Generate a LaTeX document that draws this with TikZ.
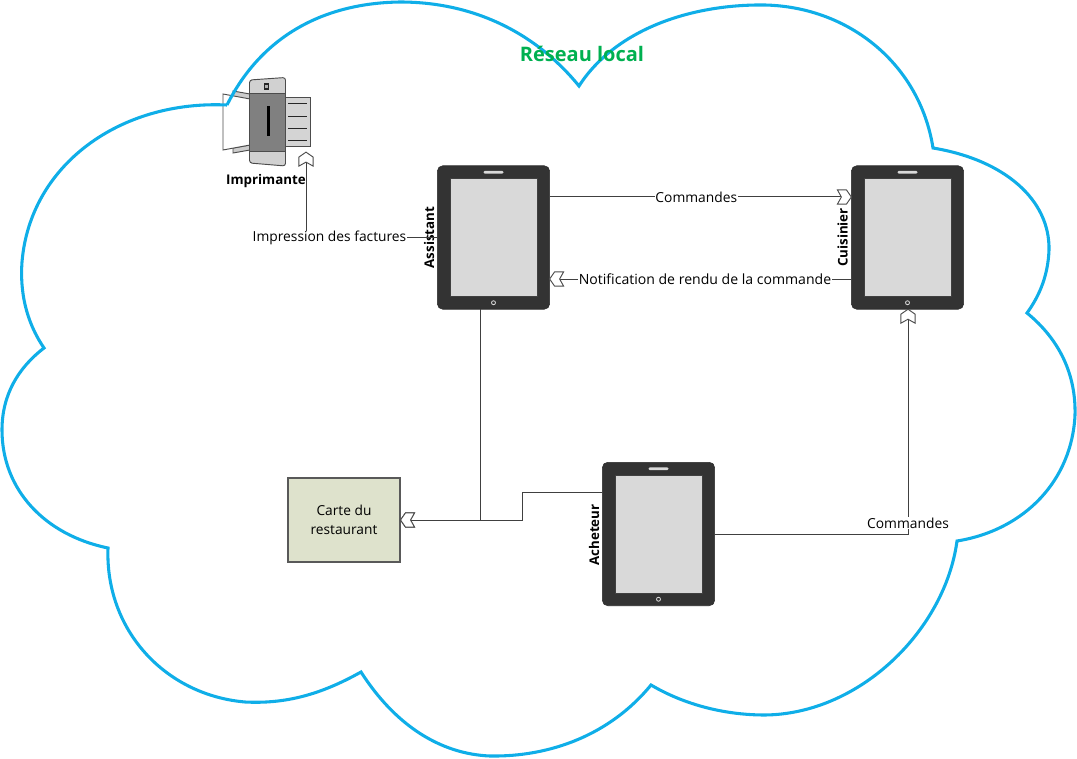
\documentclass[tikz,border=0pt]{standalone}
\usepackage{fontspec}
\setmainfont{Open Sans}
\usetikzlibrary{calc,arrows.meta}
\pgfdeclarearrow{
  name=Chev,
  setup code={\pgfarrowssettipend{0pt}\pgfarrowssetlineend{-7.5pt}\pgfarrowssetbackend{-10.5pt}\pgfarrowssetvisualbackend{-7.5pt}},
  drawing code={
    \pgfsetdash{}{0pt}\pgfsetlinewidth{0.7pt}\pgfsetmiterjoin
    \pgfsetfillcolor{white}\pgfsetstrokecolor{black!70}
    \pgfpathmoveto{\pgfqpoint{0pt}{0pt}}
    \pgfpathlineto{\pgfqpoint{-3.75pt}{5.4pt}}
    \pgfpathlineto{\pgfqpoint{-10.5pt}{5.4pt}}
    \pgfpathlineto{\pgfqpoint{-7.5pt}{0pt}}
    \pgfpathlineto{\pgfqpoint{-10.5pt}{-5.4pt}}
    \pgfpathlineto{\pgfqpoint{-3.75pt}{-5.4pt}}
    \pgfpathclose\pgfusepathqfillstroke},
  defaults={}
}
\definecolor{cloudc}{HTML}{0FAEE8}
\definecolor{netg}{HTML}{00B050}
\definecolor{tabc}{HTML}{333333}
\definecolor{scr}{HTML}{D9D9D9}
\definecolor{cartec}{HTML}{DEE2CC}
\tikzset{
  cloudline/.style={draw=cloudc,line width=2.3pt,line join=miter},
  tablet/.style={draw=tabc!80!black,fill=tabc,rounded corners=4pt,minimum width=84.2pt,minimum height=107.6pt,inner sep=0pt,outer sep=0pt},
  screen/.style={draw=black!75,fill=scr,line width=.6pt,minimum width=65.25pt,minimum height=88.5pt,inner sep=0pt},
  speaker/.style={draw=none,fill=scr,rounded corners=1pt,minimum width=15pt,minimum height=2.2pt,inner sep=0pt},
  homebtn/.style={circle,draw=scr,fill=tabc,line width=.6pt,minimum size=3pt,inner sep=0pt},
  conn/.style={draw=black!75,line width=.75pt},
  arrowed/.style={conn,-{Chev}},
  lab/.style={font=\fontsize{10.35pt}{12pt}\selectfont,fill=white,inner sep=.4pt,text=black},
  bold/.style={font=\fontsize{10pt}{11pt}\selectfont\bfseries,inner sep=0pt,text=black},
  papergray/.style={draw=black!70,fill=#1,line width=.7pt}
}
\newcommand{\tabletat}[3]{%
  \node[tablet] (#1) at (#2,#3) {};
  \node[screen] (#1s) at (#2,#3) {};
  \node[speaker] (#1k) at ($(#1.north)+(0,6.5)$) {};
  \node[homebtn] (#1b) at ($(#1.south)+(0,-6.5)$) {};
}
\begin{document}
\begin{tikzpicture}[x=0.75pt,y=-0.75pt]
\useasboundingbox (0,0) rectangle (1077,759);
% printer back parts
\path[papergray=black!20] (233,91) -- (250,94) -- (250,100) -- (233,97) -- cycle;
\path[papergray=black!20] (233,148) -- (250,145) -- (250,150) -- (233,153) -- cycle;
\path[papergray=white] (223,94) -- (250,99) -- (250,145) -- (223,150) -- cycle;
\path[papergray=black!18,rounded corners=2pt] (249.5,80) -- (285.5,77.5) -- (285.5,166) -- (249.5,163) -- cycle;
\path[papergray=black!50] (249.5,93) -- (285.5,93) -- (285.5,151) -- (249.5,151) -- cycle;
\fill[black] (266.5,106.5) rectangle (270,136.5);
\fill[black!85] (263.5,83) rectangle (269,90);
\fill[black!30] (265.3,85) rectangle (267.5,88);
\node[draw=black!70,fill=black!17,line width=.7pt,minimum width=18.2pt,minimum height=37pt,inner sep=0pt] (printer) at (298,122) {};
\foreach \yy in {103.5,116,128.5,140.5}{\draw[black!85,line width=.7pt] (288,\yy) -- (307,\yy);}
% cloud
\draw[cloudline] (227,105)
  .. controls (262,35) and (325,3) .. (400,2)
  .. controls (480,2) and (540,38) .. (579,86)
  .. controls (615,30) and (690,4) .. (765,5)
  .. controls (850,7) and (920,65) .. (933,148)
  .. controls (1005,160) and (1050,200) .. (1049,250)
  .. controls (1048,275) and (1040,295) .. (1027,313)
  .. controls (1060,340) and (1076,375) .. (1075,415)
  .. controls (1072,480) and (1025,530) .. (957,541)
  .. controls (945,630) and (860,714) .. (765,715)
  .. controls (725,715) and (685,705) .. (651,685)
  .. controls (610,735) and (550,757) .. (490,756)
  .. controls (440,754) and (395,725) .. (361,672)
  .. controls (320,695) and (285,704) .. (245,702)
  .. controls (165,695) and (105,630) .. (108,548)
  .. controls (45,535) and (2,490) .. (2,430)
  .. controls (2,395) and (18,368) .. (44,348)
  .. controls (25,320) and (20,290) .. (22,262)
  .. controls (30,165) and (120,100) .. (227,105);
% tablets
\tabletat{assistant}{493.5}{237.5}
\tabletat{cuisinier}{907.5}{237.5}
\tabletat{acheteur}{658.5}{534}
\node[draw=black!65,fill=cartec,line width=.8pt,minimum width=84pt,minimum height=63pt,inner sep=0pt,align=center,font=\fontsize{10.3pt}{14.2pt}\selectfont] (carte) at (344,520) {Carte du\\restaurant};
% labels
\node[font=\fontsize{15pt}{16pt}\selectfont\bfseries,text=netg,inner sep=0pt] (reseau) at (582,54) {Réseau local};
\node[bold] (limp) at (266,181) {Imprimante};
\node[bold,rotate=90] (lass) at (429,237.5) {Assistant};
\node[bold,rotate=90] (lcui) at (842.5,237.5) {Cuisinier};
\node[bold,rotate=90] (lach) at (594,535) {Acheteur};
% connectors
\coordinate (prn) at ($(printer.south)+(8,5)$);
\draw[arrowed] ($(assistant.east)+(0,-40.5)$) -- node[lab,pos=.486] (c1) {Commandes} ($(cuisinier.west)+(0,-40.5)$);
\draw[arrowed] ($(cuisinier.west)+(0,41.5)$) -- node[lab,pos=.485,font=\fontsize{10.55pt}{12pt}\selectfont] (c2) {Notification de rendu de la commande} ($(assistant.east)+(0,41.5)$);
\draw[arrowed] (assistant.west) -- (prn|-assistant.west) -- (prn);
\node[lab] (c3) at (329.5,238) {Impression des factures};
\draw[arrowed] ($(assistant.south)+(-13.5,0)$) |- (carte.east);
\draw[arrowed] ($(acheteur.west)+(0,-42)$) -- ++(-80,0) |- (carte.east);
\draw[arrowed] (acheteur.east) -| ($(cuisinier.south)+(0.5,0)$);
\node[lab] (c4) at (908,523) {Commandes};
\end{tikzpicture}
\end{document}
